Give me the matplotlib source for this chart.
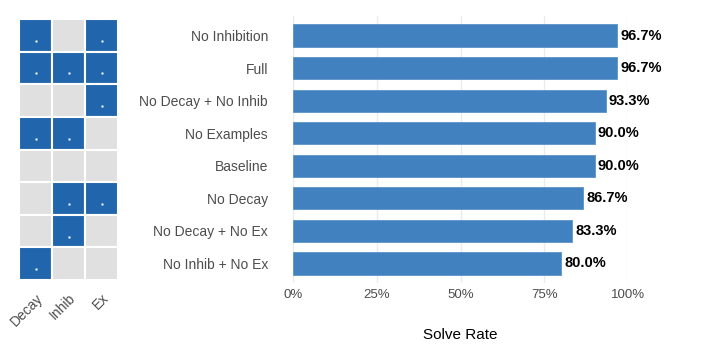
import matplotlib.pyplot as plt
import numpy as np

plt.rcParams['font.family'] = ['Liberation Sans', 'DejaVu Sans']

# data
configs = ["No Inhibition", "Full", "No Decay + No Inhib", "No Examples",
           "Baseline", "No Decay", "No Decay + No Ex", "No Inhib + No Ex"]
solve_rate = [0.967, 0.967, 0.933, 0.900, 0.900, 0.867, 0.833, 0.800]
components = ["Decay", "Inhib", "Ex"]
# 1 = component active
matrix = [
    [1, 0, 1],
    [1, 1, 1],
    [0, 0, 1],
    [1, 1, 0],
    [0, 0, 0],
    [0, 1, 1],
    [0, 1, 0],
    [1, 0, 0],
]
xticks = [0, 0.25, 0.5, 0.75, 1.0]
xtick_labels = ["0%", "25%", "50%", "75%", "100%"]

W, H = 714, 357
fig = plt.figure(figsize=(W / 100, H / 100), dpi=100)

def box(x0, y0, x1, y1):
    return [x0 / W, 1 - y1 / H, (x1 - x0) / W, (y1 - y0) / H]

blue = "#2166ac"
grey = "#e0e0e0"
text_grey = "#4d4d4d"

# matrix panel
axm = fig.add_axes(box(19, 19, 118, 280))
n = len(configs)
for i, row in enumerate(matrix):
    for j, v in enumerate(row):
        axm.add_patch(plt.Rectangle((j - 0.5, i - 0.5), 1, 1,
                                    facecolor=blue if v else grey,
                                    edgecolor="white", linewidth=1.5))
        if v:
            axm.plot(j, i + 0.17, marker="s", ms=1.8, color="white", mec="none")
axm.set_xlim(-0.5, 2.5)
axm.set_ylim(n - 0.5, -0.5)
axm.set_xticks(range(3))
axm.set_xticklabels(components, rotation=45, ha="right", rotation_mode="anchor",
                    color=text_grey, fontsize=10)
axm.set_yticks([])
axm.tick_params(length=0, pad=8)
for s in axm.spines.values():
    s.set_visible(False)

# bar panel
ax = fig.add_axes(box(293, 16, 628, 283))
ypos = np.arange(n)
ax.barh(ypos, solve_rate, height=0.68, color="#4281bf", edgecolor="#5a93c8",
        linewidth=0.6, zorder=2)
for y, v in zip(ypos, solve_rate):
    ax.text(v + 0.01, y, f"{v * 100:.1f}%", va="center", ha="left",
            fontsize=10.5, fontweight="bold", color="black", zorder=3)
ax.set_xlim(0, 1.0)
ax.set_ylim(n - 0.4, -0.6)
ax.set_yticks(ypos)
ax.set_yticklabels(configs, fontsize=10, color=text_grey)
ax.set_xticks(xticks)
ax.set_xticklabels(xtick_labels, fontsize=9.5, color=text_grey)
ax.tick_params(axis="x", length=0, pad=4)
ax.tick_params(axis="y", length=0, pad=18)
ax.grid(axis="x", color="#ebebeb", linewidth=1, zorder=0)
for s in ax.spines.values():
    s.set_visible(False)
ax.set_xlabel("Solve Rate", fontsize=11, labelpad=20)

fig.savefig("out.png", dpi=100)
